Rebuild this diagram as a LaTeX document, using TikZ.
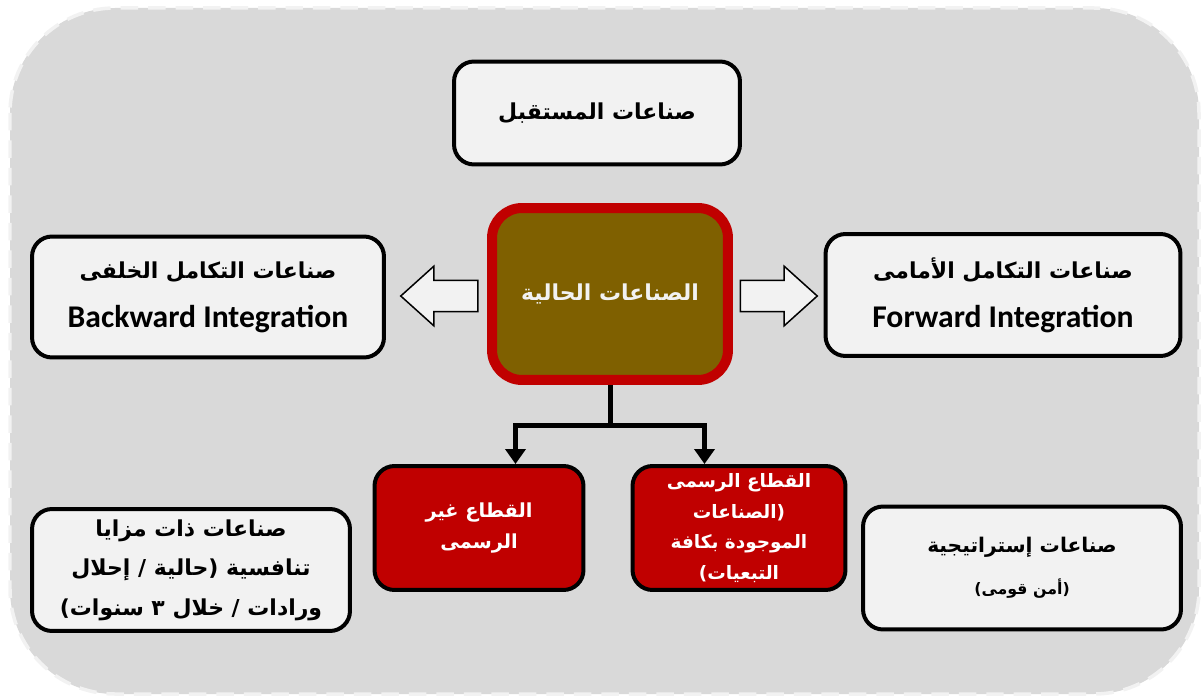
\documentclass[tikz,border=0pt]{standalone}
\usepackage{fontspec}
\newfontfamily\arabicfont[Script=Arabic]{DejaVu Sans}
\newfontfamily\latinfont{Carlito}
\TeXXeTstate=1
\usetikzlibrary{arrows.meta, positioning, shapes.arrows, calc}
\definecolor{bggray}{HTML}{D9D9D9}
\definecolor{boxgray}{HTML}{F2F2F2}
\definecolor{darkred}{HTML}{C00000}
\definecolor{browngold}{HTML}{7F6000}
\newcommand{\Ar}[1]{{\arabicfont\bfseries\beginR #1\endR}}
\newcommand{\En}[1]{{\latinfont\bfseries #1}}
\tikzset{
    frame/.style={fill=bggray, draw=boxgray, line width=0.07cm, dash pattern=on 0.35cm off 0.2cm, rounded corners=2.1cm},
    whitebox/.style={draw=black, fill=boxgray, line width=0.08cm, rounded corners=0.4cm, align=center, inner sep=0pt, font=\fontsize{12.5}{28}\selectfont},
    redbox/.style={whitebox, fill=darkred, text=white, font=\fontsize{11}{17.5}\selectfont},
    mainbox/.style={draw=darkred, fill=browngold, line width=0.2cm, rounded corners=0.6cm, text=boxgray, align=center, font=\fontsize{12.5}{20}\selectfont},
    hollow/.style={single arrow, draw=black, fill=boxgray, line width=0.03cm, inner xsep=0pt, inner ysep=0.3cm, minimum height=1.54cm, single arrow head extend=0.28cm, single arrow tip angle=84},
    link/.style={draw=black, line width=0.1cm},
}
\begin{document}
\begin{tikzpicture}[x=0.02cm, y=-0.02cm]
    \useasboundingbox (0,0) rectangle (1203,699);
    \path[frame] (10,8) rectangle (1199,694);

    \node[whitebox, minimum width=5.72cm, minimum height=2.06cm] (future) at (597,113) {\Ar{صناعات المستقبل}};
    \node[mainbox, minimum width=4.72cm, minimum height=3.44cm] (cur) at (610,294) {\Ar{الصناعات الحالية}};

    \node[whitebox, minimum width=7.04cm, minimum height=2.42cm] (back) at (208,297) {\Ar{صناعات التكامل الخلفى}\\ \En{\fontsize{18}{28}\selectfont Backward Integration}};
    \node[whitebox, minimum width=7.1cm, minimum height=2.44cm] (fwd) at (1003,295) {\Ar{صناعات التكامل الأمامى}\\ \En{\fontsize{18}{28}\selectfont Forward Integration}};

    \node[hollow, shape border rotate=180] (larr) at (448,296) {};
    \node[hollow] (rarr) at (770,296) {};

    \node[redbox, minimum width=4.18cm, minimum height=2.48cm] (inf) at (479,528) {\Ar{القطاع غير}\\ \Ar{الرسمى}};
    \node[redbox, minimum width=4.26cm, minimum height=2.48cm, font=\fontsize{10.5}{17.5}\selectfont] (frm) at (739,528) {\Ar{القطاع الرسمى}\\ \Ar{(الصناعات}\\ \Ar{الموجودة بكافة}\\ \Ar{التبعيات)}};

    \node[whitebox, minimum width=6.36cm, minimum height=2.44cm, font=\fontsize{12.5}{22.5}\selectfont] (comp) at (191,570) {\Ar{صناعات ذات مزايا}\\ \Ar{تنافسية (حالية / إحلال}\\ \Ar{ورادات / خلال ٣ سنوات)}};
    \node[whitebox, minimum width=6.36cm, minimum height=2.46cm, font=\fontsize{11.5}{24}\selectfont] (strat) at (1022,568) {\Ar{صناعات إستراتيجية}\\ \Ar{\fontsize{9}{14}\selectfont (أمن قومى)}};

    \coordinate (split) at (607,425);
    \draw[link] (cur.south) -- (cur.south |- split);
    \draw[link, -{Triangle[width=0.4cm, length=0.3cm]}] (cur.south |- split) -| ([xshift=0.73cm]inf.north);
    \draw[link, -{Triangle[width=0.4cm, length=0.3cm]}] (cur.south |- split) -| ([xshift=-0.69cm]frm.north);
\end{tikzpicture}
\end{document}
